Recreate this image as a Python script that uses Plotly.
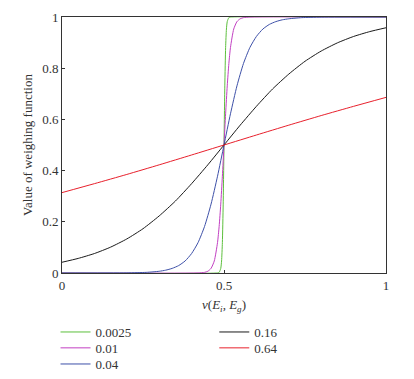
import plotly.graph_objects as go

# Series (x, y pairs)
x_0025 = [0, 0.48, 0.485, 0.49, 0.4925, 0.495, 0.4975, 0.5, 0.5025, 0.505, 0.5075, 0.51, 0.515, 0.52, 1]
y_0025 = [0, 0.0003, 0.0025, 0.018, 0.047, 0.119, 0.269, 0.5, 0.731, 0.881, 0.953, 0.982, 0.9975, 0.9997, 1]

x_001 = [0, 0.42, 0.44, 0.45, 0.46, 0.47, 0.48, 0.485, 0.49, 0.495, 0.5, 0.505, 0.51, 0.515, 0.52, 0.53, 0.54, 0.55, 0.56, 0.58, 1]
y_001 = [0, 0.0003, 0.0025, 0.0067, 0.018, 0.047, 0.119, 0.182, 0.269, 0.378, 0.5, 0.622, 0.731, 0.818, 0.881, 0.953, 0.982, 0.993, 0.9975, 0.9997, 1]

x_004 = [0, 0.2, 0.26, 0.3, 0.32, 0.34, 0.36, 0.38, 0.40, 0.42, 0.44, 0.46, 0.48, 0.5,
         0.52, 0.54, 0.56, 0.58, 0.60, 0.62, 0.64, 0.66, 0.68, 0.70, 0.74, 0.8, 1]
y_004 = [0, 0.0006, 0.0025, 0.0067, 0.011, 0.018, 0.029, 0.047, 0.076, 0.119, 0.182, 0.269, 0.378, 0.5,
         0.622, 0.731, 0.818, 0.881, 0.924, 0.953, 0.971, 0.982, 0.989, 0.993, 0.9975, 0.9994, 1]

x_016 = [0, 0.05, 0.1, 0.15, 0.2, 0.25, 0.3, 0.35, 0.4, 0.45, 0.5, 0.55, 0.6, 0.65, 0.7, 0.75, 0.8, 0.85, 0.9, 0.95, 1]
y_016 = [0.042, 0.057, 0.076, 0.101, 0.133, 0.173, 0.223, 0.281, 0.349, 0.4225, 0.5, 0.5775, 0.651, 0.719, 0.777, 0.827, 0.867, 0.899, 0.924, 0.943, 0.958]

x_064 = [0, 0.1, 0.2, 0.3, 0.4, 0.5, 0.6, 0.7, 0.8, 0.9, 1]
y_064 = [0.314, 0.349, 0.385, 0.4225, 0.461, 0.5, 0.539, 0.5775, 0.615, 0.651, 0.686]

names = ["0.0025", "0.01", "0.04", "0.16", "0.64"]
colors = ["#5cbf3c", "#c23fc2", "#3d50a8", "#1a1a1a", "#e8202c"]
xs = [x_0025, x_001, x_004, x_016, x_064]
ys = [y_0025, y_001, y_004, y_016, y_064]
legend_ids = ["legend", "legend2", "legend3", "legend4", "legend5"]
# legend slot positions (paper coords): column x, row top y
legend_pos = [(-0.02, -0.172), (-0.02, -0.234), (-0.02, -0.297), (0.47, -0.172), (0.47, -0.234)]

FONT = "Liberation Serif, Times New Roman, Times, serif"

fig = go.Figure()
for n, c, x, y, lg in zip(names, colors, xs, ys, legend_ids):
    fig.add_trace(go.Scatter(x=x, y=y, mode="lines", name=n, legend=lg, showlegend=True,
                             line=dict(color=c, width=1, shape="spline", smoothing=0.6)))

axis_common = dict(showline=True, linecolor="#333333", linewidth=1, mirror=True,
                   ticks="inside", ticklen=3, tickcolor="#333333", showgrid=False,
                   zeroline=False, automargin=False,
                   tickfont=dict(family=FONT, size=13, color="#333333"))

legend_layout = {}
for lg, (lx, ly) in zip(legend_ids, legend_pos):
    legend_layout[lg] = dict(x=lx, y=ly, xanchor="left", yanchor="top", orientation="v",
                             font=dict(family=FONT, size=13), itemwidth=30,
                             bgcolor="rgba(0,0,0,0)")

fig.update_layout(
    width=414, height=379,
    showlegend=True,
    margin=dict(l=62, r=28, t=17, b=106, autoexpand=False),
    paper_bgcolor="white", plot_bgcolor="white",
    font=dict(family=FONT, size=13, color="#333333"),
    xaxis=dict(range=[0, 1], tickvals=[0, 0.5, 1], ticktext=["0", "0.5", "1"],
               title=dict(text="<i>ν</i>(<i>E<sub>i</sub></i>, <i>E<sub>g</sub></i>)",
                          font=dict(family=FONT, size=13), standoff=8),
               **axis_common),
    yaxis=dict(range=[0, 1], tickvals=[0, 0.2, 0.4, 0.6, 0.8, 1],
               ticktext=["0", "0.2", "0.4", "0.6", "0.8", "1"],
               title=dict(text="Value of weighing function", font=dict(family=FONT, size=13), standoff=6),
               **axis_common),
    **legend_layout,
)

fig.write_html("out.html", config={"displayModeBar": False},
               post_script="document.body.style.margin='0';")
